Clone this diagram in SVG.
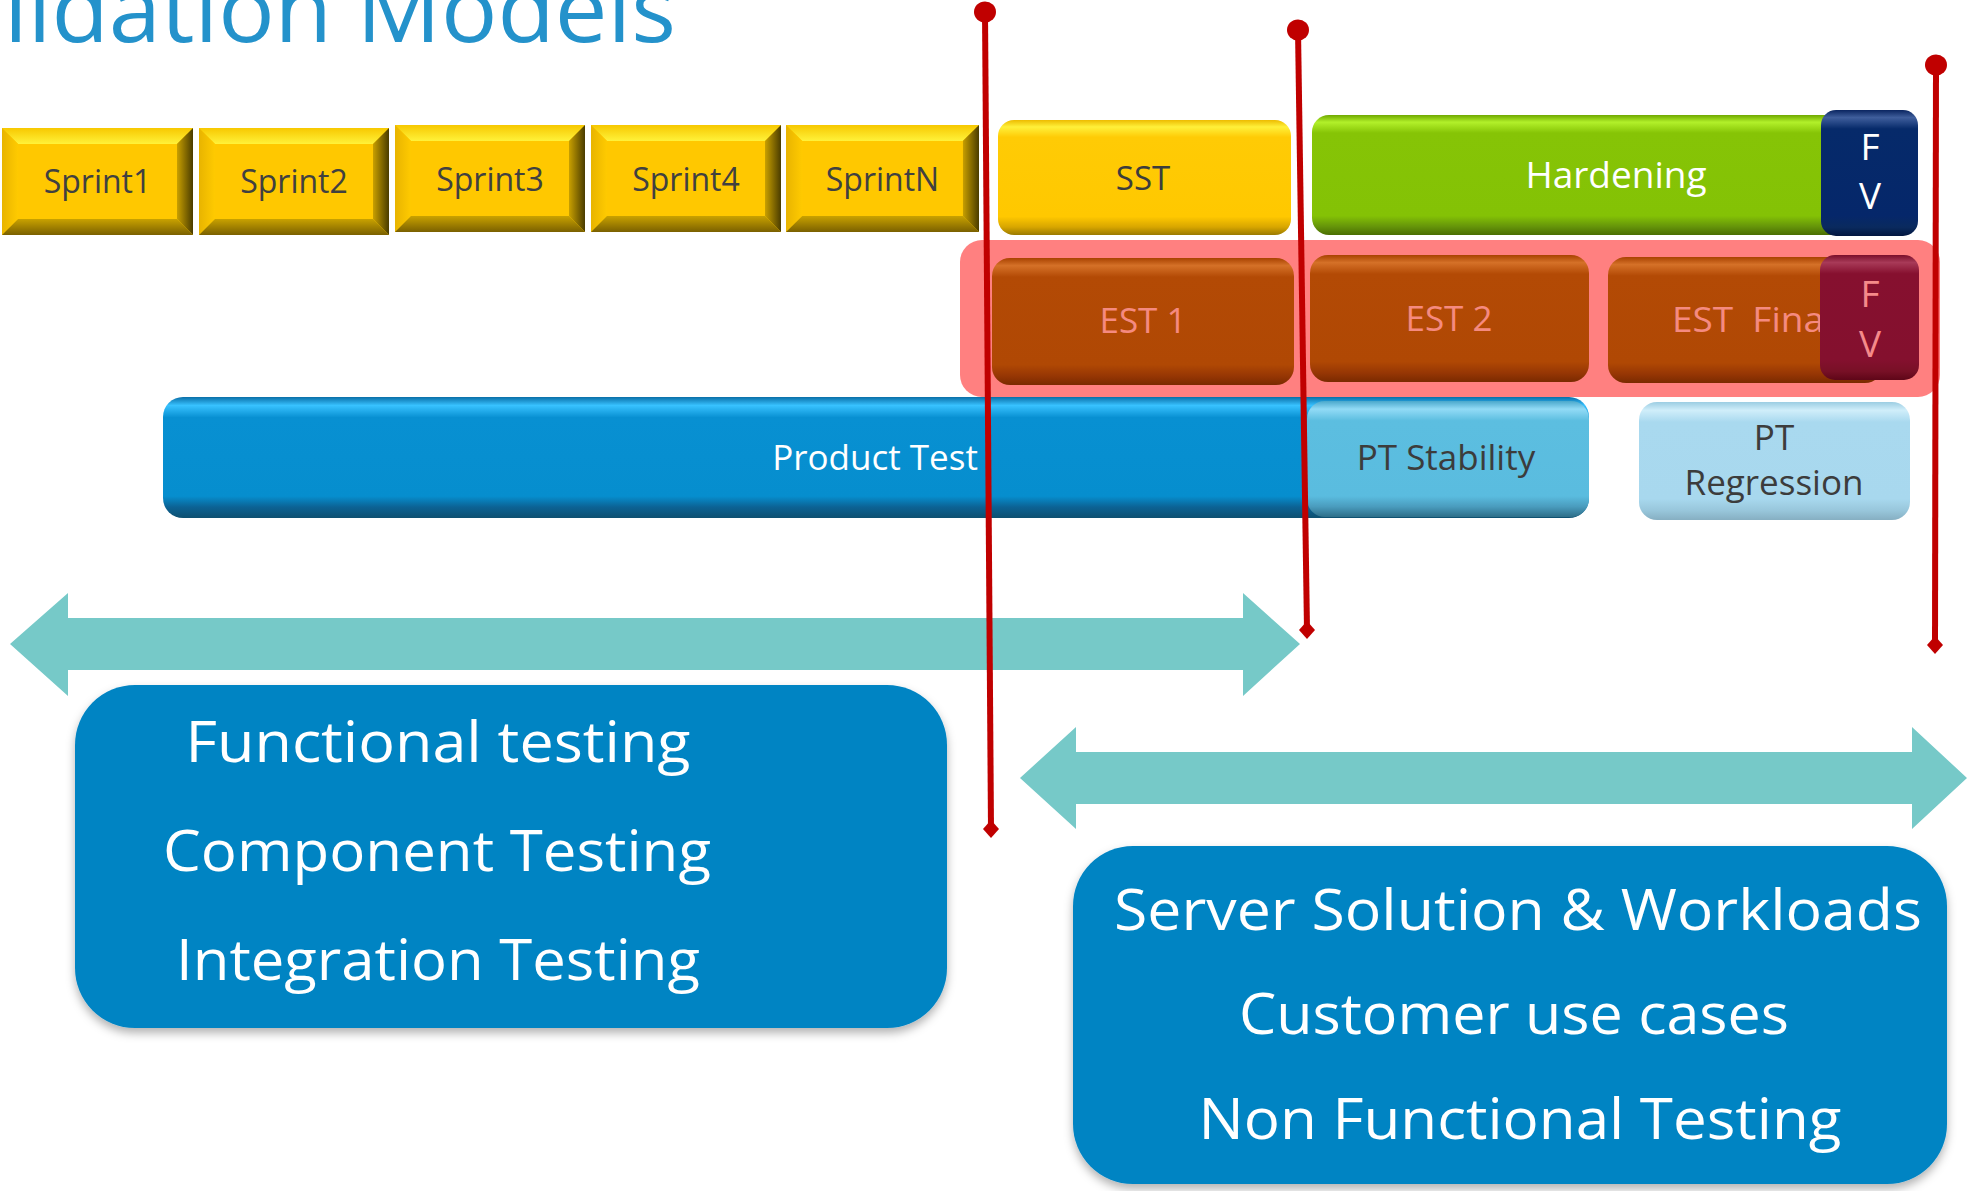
<svg xmlns="http://www.w3.org/2000/svg" width="1967" height="1191" viewBox="0 0 1967 1191">
  <style>
    text { font-family: "Open Sans", "Liberation Sans", sans-serif; }
    .title { font-size: 92px; fill: #2492CB; }
    .sprint { font-size: 32px; fill: #404040; text-anchor: middle; }
    .lbl-dark { font-size: 35px; fill: #3C3C3C; text-anchor: middle; }
    .lbl-white { font-size: 36px; fill: #FFFFFF; text-anchor: middle; }
    .lbl-est { font-size: 35px; fill: #F58A80; text-anchor: middle; }
    .fv-navy { font-size: 37px; fill: #FFFFFF; text-anchor: middle; }
    .fv-maroon { font-size: 37px; fill: #F58A8A; text-anchor: middle; }
    .scope { font-size: 57px; fill: #FFFFFF; text-anchor: middle; }
    .milestone { stroke: #C00000; stroke-width: 6; fill: none; marker-start: url(#dot); marker-end: url(#diamond); }
    .span-arrow { fill: #76C9C8; }
    .scope-box { fill: #0484C3; filter: url(#shadow); }
  </style>
  <defs>
    <!-- bevel faces for the sprint blocks -->
    <linearGradient id="bvTop" x1="0" y1="0" x2="0" y2="1">
      <stop offset="0" stop-color="#F7C800"/>
      <stop offset="1" stop-color="#FFF23A"/>
    </linearGradient>
    <linearGradient id="bvLeft" x1="0" y1="0" x2="1" y2="0">
      <stop offset="0" stop-color="#E8B400"/>
      <stop offset="1" stop-color="#FFCA00"/>
    </linearGradient>
    <linearGradient id="bvRight" x1="0" y1="0" x2="1" y2="0">
      <stop offset="0" stop-color="#C9A000"/>
      <stop offset="1" stop-color="#4A3C00"/>
    </linearGradient>
    <linearGradient id="bvBottom" x1="0" y1="0" x2="0" y2="1">
      <stop offset="0" stop-color="#C9A200"/>
      <stop offset="1" stop-color="#7A6000"/>
    </linearGradient>
    <symbol id="bevelBox" viewBox="0 0 190 107" preserveAspectRatio="none">
      <rect x="0" y="0" width="190" height="107" fill="#FFC800"/>
      <polygon points="0,0 190,0 174,16 16,16" fill="url(#bvTop)"/>
      <polygon points="0,0 16,16 16,91 0,107" fill="url(#bvLeft)"/>
      <polygon points="190,0 190,107 174,91 174,16" fill="url(#bvRight)"/>
      <polygon points="0,107 190,107 174,91 16,91" fill="url(#bvBottom)"/>
      <rect x="16" y="16" width="158" height="75" fill="#FFC800"/>
    </symbol>

    <!-- glossy fills for the rounded phase bars -->
    <linearGradient id="gYellow" x1="0" y1="0" x2="0" y2="1">
      <stop offset="0" stop-color="#EDBB00"/>
      <stop offset="0.06" stop-color="#FFF03A"/>
      <stop offset="0.15" stop-color="#FFCB05"/>
      <stop offset="0.84" stop-color="#FFC800"/>
      <stop offset="0.93" stop-color="#D8A600"/>
      <stop offset="1" stop-color="#9A7A00"/>
    </linearGradient>
    <linearGradient id="gGreen" x1="0" y1="0" x2="0" y2="1">
      <stop offset="0" stop-color="#6FA800"/>
      <stop offset="0.06" stop-color="#B2F02A"/>
      <stop offset="0.15" stop-color="#86C406"/>
      <stop offset="0.84" stop-color="#84C205"/>
      <stop offset="0.93" stop-color="#65940A"/>
      <stop offset="1" stop-color="#4A6E02"/>
    </linearGradient>
    <linearGradient id="gNavy" x1="0" y1="0" x2="0" y2="1">
      <stop offset="0" stop-color="#0A2560"/>
      <stop offset="0.06" stop-color="#3F5E9C"/>
      <stop offset="0.15" stop-color="#062A6A"/>
      <stop offset="0.84" stop-color="#05276A"/>
      <stop offset="0.93" stop-color="#0A2A5E"/>
      <stop offset="1" stop-color="#021640"/>
    </linearGradient>
    <linearGradient id="gRust" x1="0" y1="0" x2="0" y2="1">
      <stop offset="0" stop-color="#A84200"/>
      <stop offset="0.06" stop-color="#D57128"/>
      <stop offset="0.15" stop-color="#B34A05"/>
      <stop offset="0.84" stop-color="#B04804"/>
      <stop offset="0.93" stop-color="#963604"/>
      <stop offset="1" stop-color="#7A2A00"/>
    </linearGradient>
    <linearGradient id="gMaroon" x1="0" y1="0" x2="0" y2="1">
      <stop offset="0" stop-color="#7A0E2A"/>
      <stop offset="0.06" stop-color="#A83A58"/>
      <stop offset="0.15" stop-color="#86102F"/>
      <stop offset="0.84" stop-color="#84102E"/>
      <stop offset="0.93" stop-color="#781026"/>
      <stop offset="1" stop-color="#5E0618"/>
    </linearGradient>
    <linearGradient id="gBlue" x1="0" y1="0" x2="0" y2="1">
      <stop offset="0" stop-color="#0A6FA8"/>
      <stop offset="0.07" stop-color="#38C2FF"/>
      <stop offset="0.17" stop-color="#0890D2"/>
      <stop offset="0.82" stop-color="#068ECE"/>
      <stop offset="0.91" stop-color="#0C6294"/>
      <stop offset="1" stop-color="#0E5070"/>
    </linearGradient>
    <linearGradient id="gSky" x1="0" y1="0" x2="0" y2="1">
      <stop offset="0" stop-color="#4AA8CC"/>
      <stop offset="0.07" stop-color="#92DBF6"/>
      <stop offset="0.17" stop-color="#5CBEE0"/>
      <stop offset="0.82" stop-color="#5ABCDF"/>
      <stop offset="0.91" stop-color="#4A9CBE"/>
      <stop offset="1" stop-color="#2E6E88"/>
    </linearGradient>
    <linearGradient id="gPale" x1="0" y1="0" x2="0" y2="1">
      <stop offset="0" stop-color="#9CCDE2"/>
      <stop offset="0.07" stop-color="#D0EEFA"/>
      <stop offset="0.17" stop-color="#A9D9EF"/>
      <stop offset="0.82" stop-color="#A8D8EE"/>
      <stop offset="0.92" stop-color="#98C6DB"/>
      <stop offset="1" stop-color="#86AFC2"/>
    </linearGradient>

    <filter id="shadow" x="-5%" y="-5%" width="110%" height="115%">
      <feDropShadow dx="0" dy="5" stdDeviation="5" flood-color="#000000" flood-opacity="0.3"/>
    </filter>

    <marker id="dot" markerUnits="userSpaceOnUse" markerWidth="24" markerHeight="24" refX="12" refY="12">
      <ellipse cx="12" cy="12" rx="11" ry="10.5" fill="#C00000"/>
    </marker>
    <marker id="diamond" markerUnits="userSpaceOnUse" markerWidth="20" markerHeight="20" refX="10" refY="10">
      <path d="M10 1 L18 10 L10 19 L2 10 Z" fill="#C00000"/>
    </marker>
  </defs>

  <!-- heading -->
  <text class="title" x="4" y="42" textLength="672" lengthAdjust="spacingAndGlyphs">lidation Models</text>

  <!-- sprint blocks -->
  <g id="sprint1">
    <use href="#bevelBox" x="2" y="128" width="191" height="107"/>
    <text class="sprint" x="97.5" y="193">Sprint1</text>
  </g>
  <g id="sprint2">
    <use href="#bevelBox" x="199" y="128" width="190" height="107"/>
    <text class="sprint" x="294" y="193">Sprint2</text>
  </g>
  <g id="sprint3">
    <use href="#bevelBox" x="395" y="125" width="190" height="107"/>
    <text class="sprint" x="490" y="191">Sprint3</text>
  </g>
  <g id="sprint4">
    <use href="#bevelBox" x="591" y="125" width="190" height="107"/>
    <text class="sprint" x="686" y="191">Sprint4</text>
  </g>
  <g id="sprintN">
    <use href="#bevelBox" x="786" y="125" width="193" height="107"/>
    <text class="sprint" x="882.5" y="191">SprintN</text>
  </g>

  <!-- stabilisation and hardening phases -->
  <g id="sst">
    <rect x="998" y="120" width="293" height="115" rx="16" fill="url(#gYellow)"/>
    <text class="lbl-dark" x="1143" y="190" style="font-size:33px">SST</text>
  </g>
  <g id="hardening">
    <rect x="1312" y="115" width="560" height="120" rx="17" fill="url(#gGreen)"/>
    <text class="lbl-white" x="1616" y="188" style="font-size:37px">Hardening</text>
  </g>
  <g id="fv-hardening">
    <rect x="1821" y="110" width="97" height="126" rx="15" fill="url(#gNavy)"/>
    <text class="fv-navy" x="1870" y="160">F</text>
    <text class="fv-navy" x="1870" y="209">V</text>
  </g>

  <!-- EST cycles -->
  <g id="est-band">
    <rect x="960" y="240" width="980" height="157" rx="22" fill="#FF8080"/>
  </g>
  <g id="est1">
    <rect x="992" y="258" width="302" height="127" rx="18" fill="url(#gRust)"/>
    <text class="lbl-est" x="1143" y="333">EST 1</text>
  </g>
  <g id="est2">
    <rect x="1310" y="255" width="279" height="127" rx="18" fill="url(#gRust)"/>
    <text class="lbl-est" x="1449" y="331">EST 2</text>
  </g>
  <g id="est-final">
    <rect x="1608" y="257" width="275" height="126" rx="18" fill="url(#gRust)"/>
    <text class="lbl-est" x="1672" y="332" textLength="152" lengthAdjust="spacingAndGlyphs" style="text-anchor:start; white-space:pre">EST  Fina</text>
  </g>
  <g id="fv-est">
    <rect x="1820" y="255" width="99" height="125" rx="15" fill="url(#gMaroon)"/>
    <text class="fv-maroon" x="1870" y="307">F</text>
    <text class="fv-maroon" x="1870" y="357">V</text>
  </g>

  <!-- product test phases -->
  <g id="product-test">
    <rect x="163" y="397" width="1426" height="121" rx="20" fill="url(#gBlue)"/>
    <text class="lbl-white" x="875" y="470" style="font-size:35px">Product Test</text>
  </g>
  <g id="pt-stability">
    <rect x="1307" y="401" width="282" height="116" rx="18" fill="url(#gSky)"/>
    <text class="lbl-dark" x="1446" y="470">PT Stability</text>
  </g>
  <g id="pt-regression">
    <rect x="1639" y="402" width="271" height="118" rx="18" fill="url(#gPale)"/>
    <text class="lbl-dark" x="1774" y="450">PT</text>
    <text class="lbl-dark" x="1774" y="495">Regression</text>
  </g>

  <!-- functional scope -->
  <g id="functional-scope">
    <rect class="scope-box" x="75" y="685" width="872" height="343" rx="60"/>
    <text class="scope" x="438" y="762" textLength="505" lengthAdjust="spacingAndGlyphs">Functional testing</text>
    <text class="scope" x="437" y="871" textLength="548" lengthAdjust="spacingAndGlyphs">Component Testing</text>
    <text class="scope" x="438" y="980" textLength="524" lengthAdjust="spacingAndGlyphs">Integration Testing</text>
  </g>

  <!-- solution scope -->
  <g id="solution-scope">
    <rect class="scope-box" x="1073" y="846" width="874" height="338" rx="60"/>
    <text class="scope" x="1518" y="930" textLength="808" lengthAdjust="spacingAndGlyphs">Server Solution &amp; Workloads</text>
    <text class="scope" x="1514" y="1034" textLength="550" lengthAdjust="spacingAndGlyphs">Customer use cases</text>
    <text class="scope" x="1520" y="1139" textLength="643" lengthAdjust="spacingAndGlyphs">Non Functional Testing</text>
  </g>

  <!-- span arrows and milestone markers -->
  <g id="connectors">
    <polygon class="span-arrow" points="10,644 68,593 68,618 1243,618 1243,593 1300,644 1243,696 1243,670 68,670 68,696"/>
    <polygon class="span-arrow" points="1020,778 1076,727 1076,752 1912,752 1912,727 1967,778 1912,829 1912,804 1076,804 1076,829"/>
    <line class="milestone" x1="985" y1="12" x2="991" y2="829"/>
    <line class="milestone" x1="1298" y1="30" x2="1307" y2="630"/>
    <line class="milestone" x1="1936" y1="65" x2="1935" y2="645"/>
  </g>
</svg>
